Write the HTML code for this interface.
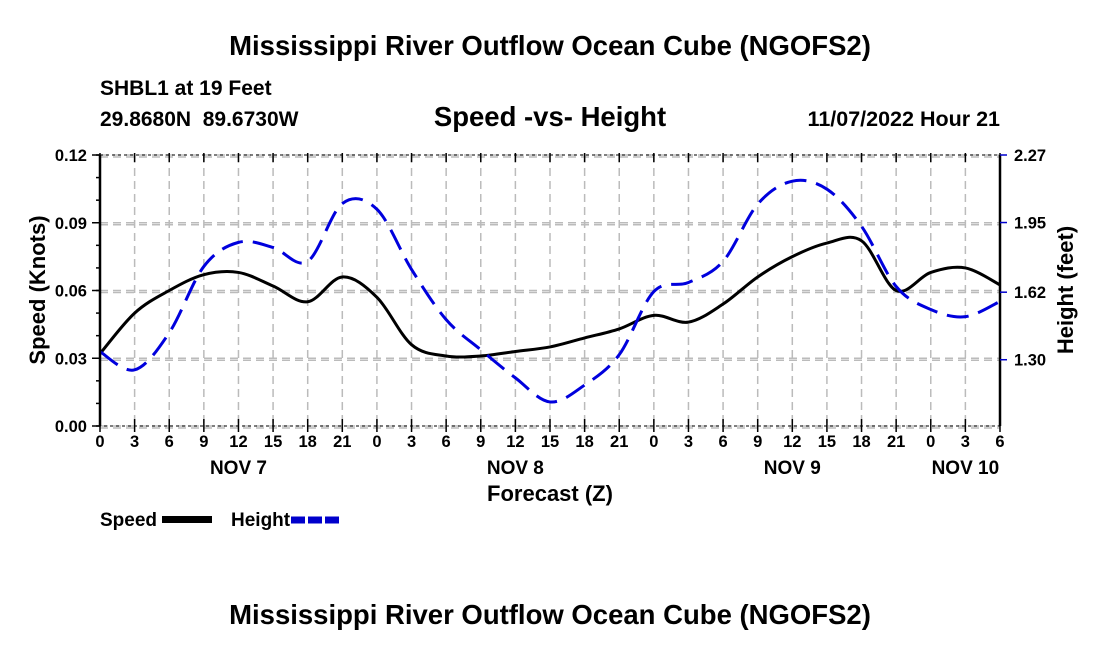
<!DOCTYPE html>
<html><head><meta charset="utf-8"><style>
body{margin:0;background:#fff;}
svg text{font-family:"Liberation Sans",Arial,sans-serif;font-weight:bold;fill:#000;}
</style></head><body>
<svg id="chart" width="1100" height="650" viewBox="0 0 1100 650" xmlns="http://www.w3.org/2000/svg">
<text x="550" y="55" font-size="27.5" text-anchor="middle">Mississippi River Outflow Ocean Cube (NGOFS2)</text>
<text x="100" y="95" font-size="21">SHBL1 at 19 Feet</text>
<text x="100" y="126" font-size="21">29.8680N&#160;&#160;89.6730W</text>
<text x="550" y="126" font-size="27.5" text-anchor="middle">Speed -vs- Height</text>
<text x="1000" y="126" font-size="21.5" text-anchor="end">11/07/2022 Hour 21</text>
<text x="550" y="624" font-size="27.5" text-anchor="middle">Mississippi River Outflow Ocean Cube (NGOFS2)</text>
<g id="grid"></g><g id="series"></g><g id="axes"></g>
</svg>
<script>
const hours=[0,3,6,9,12,15,18,21,24,27,30,33,36,39,42,45,48,51,54,57,60,63,66,69,72,75,78];
const speed=[0.032,0.050,0.060,0.067,0.068,0.062,0.055,0.066,0.057,0.036,0.031,0.031,0.033,0.035,0.039,0.043,0.049,0.046,0.054,0.066,0.075,0.081,0.082,0.060,0.068,0.070,0.0625];
const height=[1.338,1.252,1.428,1.742,1.856,1.832,1.766,2.04,2.013,1.728,1.49,1.347,1.214,1.10,1.18,1.324,1.623,1.666,1.766,2.037,2.146,2.108,1.932,1.647,1.538,1.504,1.576];
const xTickLabels=["0","3","6","9","12","15","18","21","0","3","6","9","12","15","18","21","0","3","6","9","12","15","18","21","0","3","6"];
const dayLabels=["NOV 7","NOV 8","NOV 9","NOV 10"];
const dayHours=[12,36,60,75];
const leftTicks=[0,0.03,0.06,0.09,0.12];
const leftLabels=["0.00","0.03","0.06","0.09","0.12"];
const rightTicks=[1.30,1.62,1.95,2.27];
const rightLabels=["1.30","1.62","1.95","2.27"];
const X0=100,X1=1000,YT=155,YB=426,HMAX=78,SMAX=0.12,HLO=0.986,HHI=2.27;
const xs=h=>X0+(h/HMAX)*(X1-X0);
const ys=v=>YB-(v/SMAX)*(YB-YT);
const yh=v=>YB-((v-HLO)/(HHI-HLO))*(YB-YT);
const NS="http://www.w3.org/2000/svg";
function mk(tag,attrs,parent,txt){const e=document.createElementNS(NS,tag);for(const k in attrs)e.setAttribute(k,attrs[k]);if(txt!==undefined)e.textContent=txt;document.getElementById(parent).appendChild(e);return e;}
hours.forEach((h,i)=>{if(i>0&&i<hours.length-1){const l=mk('line',{x1:xs(h),x2:xs(h),y1:YT,y2:YB,stroke:'#bbb','stroke-width':1.5,'stroke-dasharray':'8,5'},'grid');

}});
leftTicks.forEach(v=>{[0,2].forEach(o=>{const l=mk('line',{x1:X0,x2:X1,y1:ys(v)+o,y2:ys(v)+o,stroke:'#bbb','stroke-width':1.5,'stroke-dasharray':'8,5'},'grid');

});});
function path(vals,fy){const p=hours.map((h,i)=>[xs(h),fy(vals[i])]);let d=`M${p[0][0]},${p[0][1]}`;
for(let i=0;i<p.length-1;i++){const a=p[Math.max(0,i-1)],b=p[i],c=p[i+1],e=p[Math.min(p.length-1,i+2)];
d+=` C${b[0]+(c[0]-a[0])/6},${b[1]+(c[1]-a[1])/6} ${c[0]-(e[0]-b[0])/6},${c[1]-(e[1]-b[1])/6} ${c[0]},${c[1]}`;}return d;}
const sp=mk('path',{d:path(speed,ys),fill:'none',stroke:'#000','stroke-width':3},'series');


const hp=mk('path',{d:path(height,yh),fill:'none',stroke:'#0000dd','stroke-width':3,'stroke-dasharray':'22,10'},'series');


const fr=mk('rect',{x:X0,y:YT,width:X1-X0,height:YB-YT,fill:'none',stroke:'#000','stroke-width':1,'stroke-dasharray':'3,3'},'axes');


const la=mk('line',{x1:X0,x2:X0,y1:YT,y2:YB,stroke:'#000','stroke-width':2.5},'axes');


const ra=mk('line',{x1:X1,x2:X1,y1:YT,y2:YB,stroke:'#000','stroke-width':2.5},'axes');


hours.forEach((h,i)=>{mk('line',{x1:xs(h),x2:xs(h),y1:YB-7,y2:YB+6,stroke:'#000','stroke-width':1.5},'axes');
mk('line',{x1:xs(h),x2:xs(h),y1:YT-2,y2:YT+7,stroke:'#000','stroke-width':1.5},'axes');
const t=mk('text',{x:xs(h),y:YB+21,'font-size':16.5,'text-anchor':'middle'},'axes',xTickLabels[i]);

});
dayLabels.forEach((s,i)=>{const t=mk('text',{x:xs(dayHours[i]),y:YB+48,'font-size':19,'text-anchor':'middle'},'axes',s);

});
for(let v=0;v<=0.1201;v+=0.01){mk('line',{x1:X0-4,x2:X0,y1:ys(v),y2:ys(v),stroke:'#000','stroke-width':1.5},'axes');}
leftTicks.forEach((v,i)=>{mk('line',{x1:X0-8,x2:X0,y1:ys(v),y2:ys(v),stroke:'#000','stroke-width':1.5},'axes');
const t=mk('text',{x:X0-13,y:ys(v)+6,'font-size':16.5,'text-anchor':'end'},'axes',leftLabels[i]);

});
rightTicks.forEach((v,i)=>{mk('line',{x1:X1,x2:X1+7,y1:yh(v),y2:yh(v),stroke:'#00c','stroke-width':1.5},'axes');
const t=mk('text',{x:X1+14,y:yh(v)+6,'font-size':16.5},'axes',rightLabels[i]);

});
const yl=mk('text',{x:45,y:290,'font-size':22,'text-anchor':'middle',transform:'rotate(-90 45 290)'},'axes','Speed (Knots)');


const yr=mk('text',{x:1073,y:290,'font-size':22,'text-anchor':'middle',transform:'rotate(-90 1073 290)'},'axes','Height (feet)');


const xl=mk('text',{x:550,y:501,'font-size':22,'text-anchor':'middle'},'axes','Forecast (Z)');


const l1=mk('text',{x:100,y:526,'font-size':19},'axes','Speed');


const l1s=mk('rect',{x:162,y:516,width:50,height:7,fill:'#000'},'axes');


const l2=mk('text',{x:231,y:526,'font-size':19},'axes','Height');


const l2s=mk('line',{x1:291,x2:342,y1:520,y2:520,stroke:'#00c','stroke-width':7,'stroke-dasharray':'14,3'},'axes');


</script>
</body></html>
